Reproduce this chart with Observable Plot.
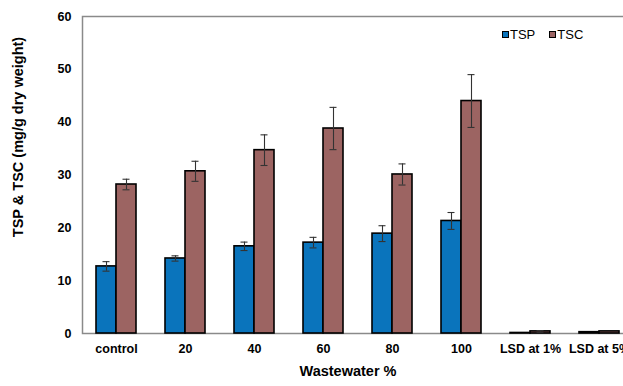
<!DOCTYPE html>
<html>
<head>
<meta charset="utf-8">
<script src="https://cdn.jsdelivr.net/npm/d3@7"></script>
<script src="https://cdn.jsdelivr.net/npm/@observablehq/plot@0.6"></script>
<style>
  html, body { margin: 0; padding: 0; background: #fff; overflow: hidden; }
  #wrap { position: relative; width: 640px; height: 386px; font-family: "Liberation Sans", Arial, sans-serif; }
  #ytitle { position: absolute; left: 18px; top: 137px; transform: translate(-50%, -50%) rotate(-90deg); white-space: nowrap; font-weight: bold; font-size: 14.5px; color: #000; }
  #xtitle { position: absolute; left: 348px; top: 363px; transform: translateX(-50%); white-space: nowrap; font-weight: bold; font-size: 14.5px; color: #000; }
  #legend { position: absolute; left: 502px; top: 27px; font-size: 13px; color: #000; display: flex; gap: 14px; }
  #legend span.item { display: inline-flex; align-items: center; }
  #legend span.sw { display: inline-block; width: 5px; height: 5px; border: 1.2px solid #000; margin-right: 1px; }
</style>
</head>
<body>
<div id="wrap">
  <div id="chart"></div>
  <div id="ytitle">TSP &amp; TSC (mg/g dry weight)</div>
  <div id="xtitle">Wastewater %</div>
  <div id="legend"></div>
</div>
<script>
const categories = ["control", "20", "40", "60", "80", "100", "LSD at 1%", "LSD at 5%"];
const series = ["TSP", "TSC"];
const colors = ["#0A74BC", "#9C6462"];
const tspValues = [12.7, 14.2, 16.5, 17.2, 18.9, 21.3, 0.1, 0.25];
const tspErrors = [0.9, 0.5, 0.8, 1.0, 1.5, 1.6, 0, 0];
const tscValues = [28.2, 30.7, 34.7, 38.8, 30.1, 44.0, 0.4, 0.4];
const tscErrors = [1.0, 1.9, 2.9, 4.0, 2.0, 5.0, 0.15, 0];
const yTicks = [0, 10, 20, 30, 40, 50, 60];

const data = [];
categories.forEach((c, i) => {
  data.push({cat: c, series: "TSP", value: tspValues[i], err: tspErrors[i]});
  data.push({cat: c, series: "TSC", value: tscValues[i], err: tscErrors[i]});
});
const tsp = data.filter(d => d.series === "TSP");
const tsc = data.filter(d => d.series === "TSC");
const errTsp = tsp.filter(d => d.err > 0);
const errTsc = tsc.filter(d => d.err > 0);

const half = 20;   // half of the group width in px
const capIn = 6.5; // cap inset

const chart = Plot.plot({
  width: 640,
  height: 386,
  marginLeft: 82,
  marginRight: 6,
  marginTop: 16,
  marginBottom: 53,
  style: {fontFamily: "'Liberation Sans', Arial, sans-serif", fontSize: "12.5px", fontWeight: "bold", color: "#000", background: "#fff"},
  x: {domain: categories, paddingInner: 0.42, paddingOuter: 0.21, label: null, tickSize: 0, tickPadding: 11},
  y: {domain: [0, 60], ticks: yTicks, label: null, tickSize: 0, tickPadding: 11},
  color: {domain: series, range: colors},
  marks: [
    Plot.frame({stroke: "#8a8a8a", strokeWidth: 1.5}),
    Plot.barY(tsp, {x: "cat", y: "value", fill: "series", stroke: "#000", strokeWidth: 1.6, insetRight: half}),
    Plot.barY(tsc, {x: "cat", y: "value", fill: "series", stroke: "#000", strokeWidth: 1.6, insetLeft: half}),
    Plot.ruleX(errTsp, {x: "cat", dx: -half / 2, y1: d => d.value - d.err, y2: d => d.value + d.err, stroke: "#333", strokeWidth: 1.1}),
    Plot.ruleX(errTsc, {x: "cat", dx: half / 2, y1: d => d.value - d.err, y2: d => d.value + d.err, stroke: "#333", strokeWidth: 1.1}),
    Plot.tickY(errTsp, {x: "cat", y: d => d.value - d.err, insetLeft: capIn, insetRight: half + capIn, stroke: "#333", strokeWidth: 1.1}),
    Plot.tickY(errTsp, {x: "cat", y: d => d.value + d.err, insetLeft: capIn, insetRight: half + capIn, stroke: "#333", strokeWidth: 1.1}),
    Plot.tickY(errTsc, {x: "cat", y: d => d.value - d.err, insetLeft: half + capIn, insetRight: capIn, stroke: "#333", strokeWidth: 1.1}),
    Plot.tickY(errTsc, {x: "cat", y: d => d.value + d.err, insetLeft: half + capIn, insetRight: capIn, stroke: "#333", strokeWidth: 1.1})
  ]
});
document.getElementById("chart").appendChild(chart);

const legend = document.getElementById("legend");
series.forEach((s, i) => {
  const item = document.createElement("span");
  item.className = "item";
  const sw = document.createElement("span");
  sw.className = "sw";
  sw.style.background = colors[i];
  item.appendChild(sw);
  item.appendChild(document.createTextNode(s));
  legend.appendChild(item);
});
</script>
</body>
</html>
